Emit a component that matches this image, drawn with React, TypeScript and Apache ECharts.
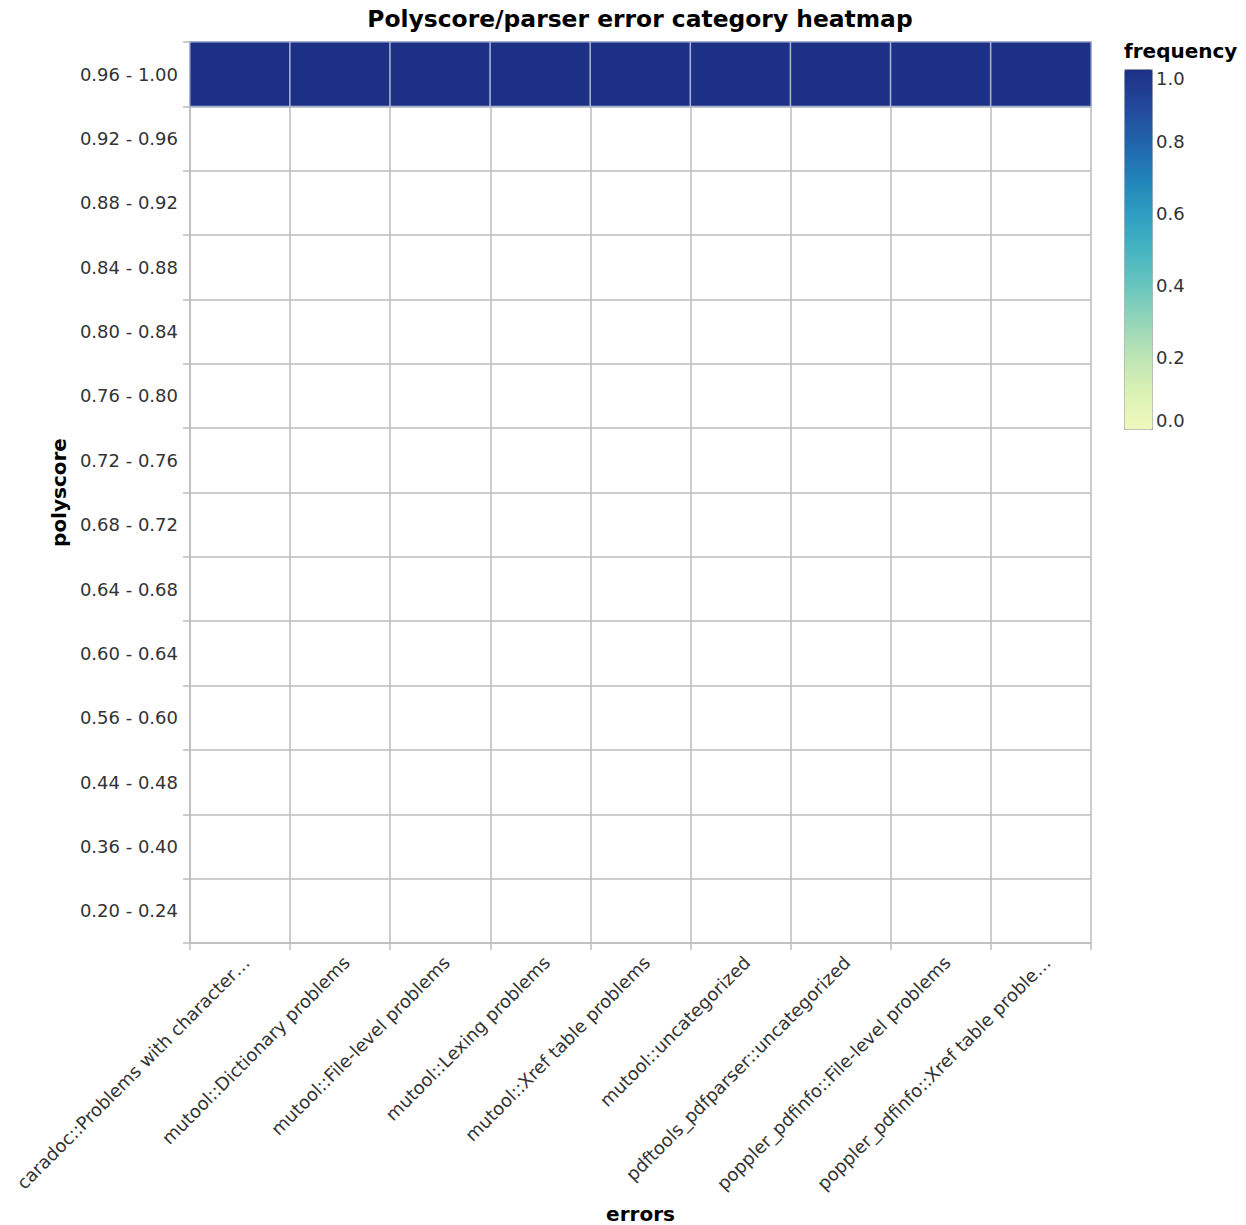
import React, { useEffect, useRef } from "react";
import * as echarts from "echarts";

// Parser error categories (x axis)
const errorCategories: string[] = [
  "caradoc::Problems with character…",
  "mutool::Dictionary problems",
  "mutool::File-level problems",
  "mutool::Lexing problems",
  "mutool::Xref table problems",
  "mutool::uncategorized",
  "pdftools_pdfparser::uncategorized",
  "poppler_pdfinfo::File-level problems",
  "poppler_pdfinfo::Xref table proble…",
];

// Polyscore bins (y axis, bottom to top)
const polyscoreBins: string[] = [
  "0.20 - 0.24",
  "0.36 - 0.40",
  "0.44 - 0.48",
  "0.56 - 0.60",
  "0.60 - 0.64",
  "0.64 - 0.68",
  "0.68 - 0.72",
  "0.72 - 0.76",
  "0.76 - 0.80",
  "0.80 - 0.84",
  "0.84 - 0.88",
  "0.88 - 0.92",
  "0.92 - 0.96",
  "0.96 - 1.00",
];

// Observed frequency per (error, bin); bins without records are absent
const observedBin = "0.96 - 1.00";
const frequencies: number[] = [1, 1, 1, 1, 1, 1, 1, 1, 1];

// Legend ticks
const legendMin = 0;
const legendMax = 1;
const legendStep = 0.2;

// Yellow-green-blue scheme
const schemeColors: string[] = [
  "#eff9bd", "#dbf1b4", "#bde5b5", "#94d5b9", "#69c5be", "#45b4c2",
  "#2c9ec0", "#2182b8", "#2163aa", "#23479c", "#1c3185",
];

const FONT = "DejaVu Sans";

export default function App() {
  const ref = useRef<HTMLDivElement>(null);

  useEffect(() => {
    if (!ref.current) return;
    const chart = echarts.init(ref.current, null, { renderer: "svg" });

    const heatData = errorCategories.map((e, i) => [i, polyscoreBins.indexOf(observedBin), frequencies[i]]);

    const gridLeft = 190;
    const gridTop = 42;
    const gridRight = 1246 - 1091;
    const gridBottom = 1225 - 943;

    const legendLeft = 1124;
    const legendTop = 69;
    const legendW = 28;
    const legendH = 360;

    const lineColor = "#bdbdbd";
    const labelColor = "#333";
    const titleStyle = { fontFamily: FONT, fontSize: 20, fontWeight: "bold", color: "#000" };

    chart.setOption({
      animation: false,
      backgroundColor: "#ffffff",
      textStyle: { fontFamily: FONT },
      title: [
        {
          text: "Polyscore/parser error category heatmap",
          left: 635,
          top: 2,
          textAlign: "center",
          textStyle: { fontFamily: FONT, fontSize: 23.4, fontWeight: "bold", color: "#000" },
        },
        {
          text: "frequency",
          left: legendLeft - 5,
          top: 36,
          textStyle: titleStyle,
        },
      ],
      grid: [
        { left: gridLeft, top: gridTop, right: gridRight, bottom: gridBottom, outerBoundsMode: "none", containLabel: false },
        { left: legendLeft, top: legendTop, width: legendW, height: legendH, outerBoundsMode: "none", containLabel: false },
      ],
      xAxis: [
        {
          type: "category",
          gridIndex: 0,
          data: errorCategories,
          name: "errors",
          nameLocation: "middle",
          nameGap: 261,
          nameTextStyle: titleStyle,
          axisLine: { show: true, lineStyle: { color: lineColor, width: 1.5 } },
          axisTick: { show: true, length: 7, lineStyle: { color: lineColor, width: 1.5 } },
          axisLabel: {
            rotate: 45,
            margin: 10,
            interval: 0,
            verticalAlign: "top",
            fontFamily: FONT,
            fontSize: 18,
            color: labelColor,
          },
          splitLine: { show: true, lineStyle: { color: lineColor, width: 1.5 } },
        },
        {
          type: "value",
          gridIndex: 1,
          show: false,
        },
      ],
      yAxis: [
        {
          type: "category",
          gridIndex: 0,
          data: polyscoreBins,
          name: "polyscore",
          nameLocation: "middle",
          nameGap: 115,
          nameRotate: 90,
          nameTextStyle: titleStyle,
          axisLine: { show: true, lineStyle: { color: lineColor, width: 1.5 } },
          axisTick: { show: true, length: 7, lineStyle: { color: lineColor, width: 1.5 } },
          axisLabel: {
            margin: 12,
            fontFamily: FONT,
            fontSize: 18,
            color: labelColor,
            padding: [0, 0, 4, 0],
          },
          splitLine: { show: true, lineStyle: { color: lineColor, width: 1.5 } },
        },
        {
          type: "value",
          gridIndex: 1,
          min: legendMin,
          max: legendMax,
          interval: legendStep,
          position: "right",
          axisLine: { show: false },
          axisTick: { show: false },
          splitLine: { show: false },
          axisLabel: {
            margin: 4,
            fontFamily: FONT,
            fontSize: 18,
            color: labelColor,
            formatter: (v: number) => v.toFixed(1),
            verticalAlignMinLabel: "bottom",
            verticalAlignMaxLabel: "top",
          },
        },
      ],
      visualMap: {
        type: "continuous",
        min: legendMin,
        max: legendMax,
        calculable: false,
        seriesIndex: 0,
        orient: "vertical",
        left: legendLeft,
        top: legendTop,
        itemWidth: legendW,
        itemHeight: legendH,
        padding: 0,
        borderColor: "#aaaaaa",
        borderWidth: 1,
        inRange: { color: schemeColors },
      },
      series: [
        {
          type: "heatmap",
          xAxisIndex: 0,
          yAxisIndex: 0,
          data: heatData,
          itemStyle: { borderColor: "#aab3d3", borderWidth: 1.5 },
          emphasis: { disabled: true },
        },
      ],
    });

    return () => chart.dispose();
  }, []);

  return (
    <div
      ref={ref}
      style={{ position: "absolute", left: 0, top: 0, width: 1246, height: 1225 }}
    />
  );
}
